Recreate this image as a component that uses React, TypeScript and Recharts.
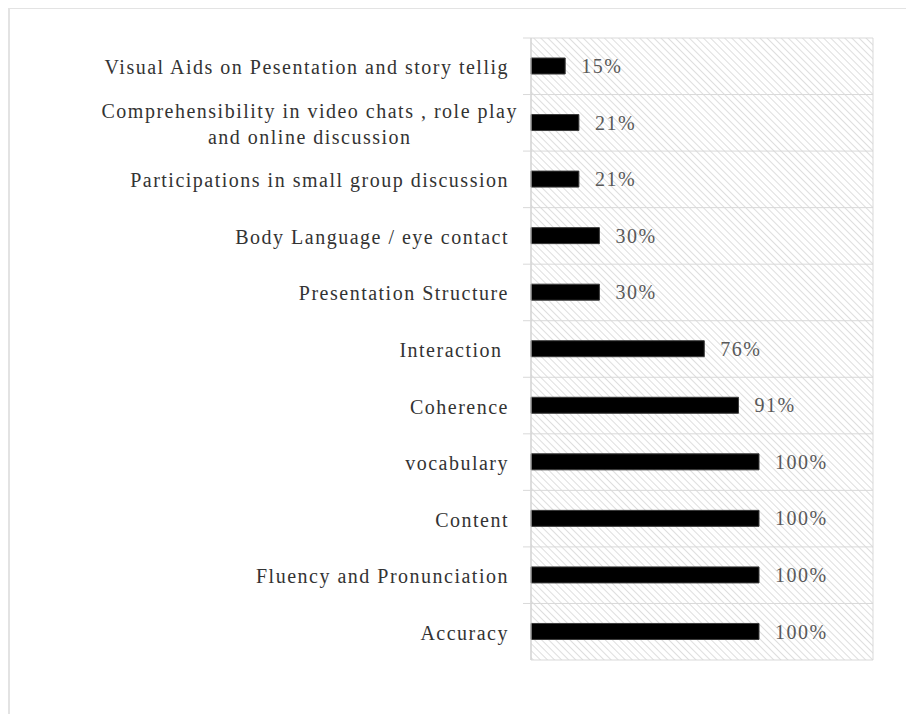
import React from 'react';
import { BarChart, Bar, XAxis, YAxis, CartesianGrid, LabelList } from 'recharts';

const categories = [
  'Visual Aids on Pesentation and story tellig',
  'Comprehensibility in video chats , role play and online discussion',
  'Participations in small group discussion',
  'Body Language / eye contact',
  'Presentation Structure',
  'Interaction ',
  'Coherence',
  'vocabulary',
  'Content',
  'Fluency and Pronunciation',
  'Accuracy',
];
const percents = [15, 21, 21, 30, 30, 76, 91, 100, 100, 100, 100];
const xTicks = [0, 50, 100, 150];

const data = categories.map((name, i) => ({ name, value: percents[i] }));

const W = 914;
const H = 722;
const TOP = 38;
const BOTTOM = 62;
const BAND = (H - TOP - BOTTOM) / categories.length;
const FONT = '"Liberation Serif", "Times New Roman", serif';
const FONT_SIZE = 20;
const LS = 1.5;
const WRAP_WIDTH = 440;

let ctx: CanvasRenderingContext2D | null = null;
const measure = (s: string) => {
  if (!ctx) ctx = document.createElement('canvas').getContext('2d');
  if (!ctx) return s.length * 9.5;
  ctx.font = `${FONT_SIZE}px ${FONT}`;
  return ctx.measureText(s).width + s.length * LS;
};

const wrap = (text: string) => {
  const words = text.split(' ');
  const lines: string[] = [];
  let cur = '';
  words.forEach((w) => {
    const next = cur ? `${cur} ${w}` : w;
    if (cur && measure(next) > WRAP_WIDTH) {
      lines.push(cur);
      cur = w;
    } else {
      cur = next;
    }
  });
  if (cur) lines.push(cur);
  return lines;
};

const CategoryTick = ({ x, y, payload }: any) => {
  const lines = wrap(payload.value);
  const lineH = 26;
  const markY = y - BAND / 2;
  const textProps = {
    fill: '#333333',
    fontSize: FONT_SIZE,
    fontFamily: FONT,
    letterSpacing: LS,
    style: { whiteSpace: 'pre' as const },
  };
  if (lines.length === 1) {
    return (
      <g>
        <line x1={x + 14} x2={x + 22} y1={markY} y2={markY} stroke="#d9d9d9" />
        <text x={x} y={y} dy={8} textAnchor="end" {...textProps}>
          {payload.value}
        </text>
      </g>
    );
  }
  const maxW = Math.max(...lines.map(measure));
  const cx = x + 9 - maxW / 2;
  const startY = y - ((lines.length - 1) * lineH) / 2;
  return (
    <g>
      <line x1={x + 14} x2={x + 22} y1={markY} y2={markY} stroke="#d9d9d9" />
      {lines.map((l, i) => (
        <text key={i} x={cx} y={startY + i * lineH} dy={8} textAnchor="middle" {...textProps}>
          {l}
        </text>
      ))}
    </g>
  );
};

export default function App() {
  return (
    <div style={{ margin: -8, width: W, height: H, position: 'relative', overflow: 'hidden', background: '#fff' }}>
      <svg width={0} height={0} style={{ position: 'absolute' }}>
        <defs>
          <pattern id="hatch" width="5" height="5" patternUnits="userSpaceOnUse" patternTransform="rotate(-45)">
            <rect width="5" height="5" fill="#ffffff" />
            <line x1="0" y1="0" x2="0" y2="5" stroke="#d6d6d6" strokeWidth="1.6" />
          </pattern>
        </defs>
      </svg>
      <div style={{ position: 'absolute', left: 0, top: 0 }}>
        <BarChart
          width={W}
          height={H}
          data={data}
          layout="vertical"
          margin={{ top: TOP, right: 41, bottom: BOTTOM, left: 0 }}
        >
          <CartesianGrid
            fill="url(#hatch)"
            fillOpacity={1}
            stroke="#d9d9d9"
            horizontalCoordinatesGenerator={({ offset }: any) =>
              categories.map((_, i) => offset.top + i * BAND).concat([offset.top + offset.height])
            }
          />
          <XAxis
            type="number"
            domain={[0, 150]}
            ticks={xTicks}
            tick={false}
            axisLine={false}
            tickLine={false}
            height={0}
          />
          <YAxis
            type="category"
            dataKey="name"
            width={531}
            interval={0}
            tickLine={false}
            tickSize={8}
            tickMargin={14}
            axisLine={{ stroke: '#cfcfcf' }}
            tick={<CategoryTick />}
          />
          <Bar dataKey="value" fill="#000" stroke="#3a3a3a" barSize={16} isAnimationActive={false}>
            <LabelList
              dataKey="value"
              position="right"
              offset={16}
              formatter={(v: any) => `${v}%`}
              fill="#595959"
              fontSize={FONT_SIZE}
              fontFamily={FONT}
              style={{ letterSpacing: LS }}
            />
          </Bar>
        </BarChart>
      </div>
      <div style={{ position: 'absolute', left: 8, top: 7, width: W, height: 2, background: '#e3e3e3' }} />
      <div style={{ position: 'absolute', left: 8, top: 7, width: 2, height: H, background: '#e3e3e3' }} />
    </div>
  );
}
